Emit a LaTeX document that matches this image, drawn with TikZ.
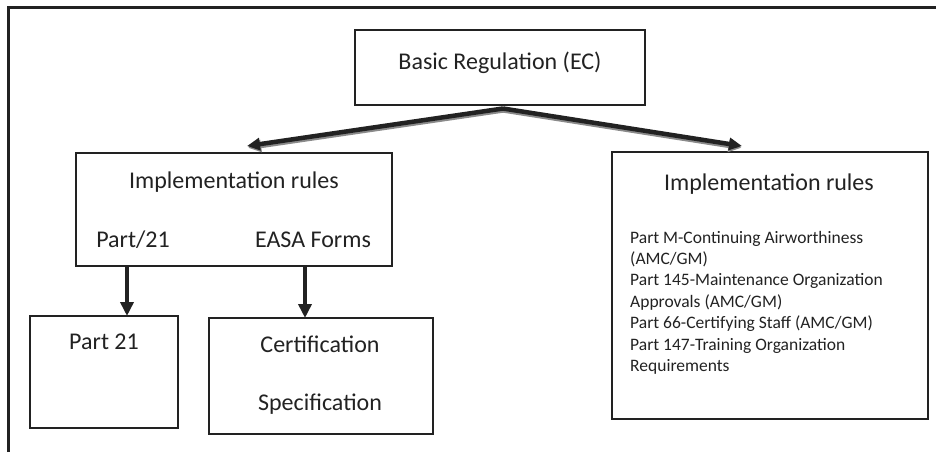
\documentclass[tikz,border=0pt]{standalone}
\usepackage{fontspec}
\setmainfont{Carlito}
\usetikzlibrary{arrows.meta}
\definecolor{ink}{HTML}{222222}
\definecolor{shade}{HTML}{8A8A8A}
\begin{document}
\begin{tikzpicture}[x=1pt,y=-1pt,
  box/.style={draw=ink, line width=2.6pt, inner sep=0pt, outer sep=0pt},
  big/.style={font=\fontsize{24}{29}\selectfont, text=ink, inner sep=0pt},
  small/.style={font=\fontsize{17.5}{21}\selectfont, text=ink, inner sep=0pt, anchor=base west},
  toparrow/.style={draw=ink, line width=4.5pt, -{Triangle[length=13pt,width=12pt]}},
  topshadow/.style={draw=shade, line width=4.5pt, -{Triangle[length=13pt,width=12pt]}},
  downarrow/.style={draw=ink, line width=4.5pt, -{Triangle[length=14pt,width=13pt]}}
]
\useasboundingbox (0,0) rectangle (936,452);
% frame
\draw[ink, line width=3pt] (8,452) -- (8,8) -- (936,8);

% boxes
\node[box, minimum width=290pt, minimum height=75pt] (basic) at (500,67.5) {};
\node[box, minimum width=316pt, minimum height=113pt] (implL) at (234,209.5) {};
\node[box, minimum width=316pt, minimum height=267pt] (implR) at (770,285.5) {};
\node[box, minimum width=148pt, minimum height=112pt] (part21) at (104,372) {};
\node[box, minimum width=224pt, minimum height=116pt] (cert) at (321,376) {};

% texts
\node[big, anchor=base] (basicT) at (500,70) {Basic Regulation (EC)};
\node[big, anchor=base] (implLT) at (234,188) {Implementation rules};
\node[big, anchor=base] (partLT) at (133,247) {Part/21};
\node[big, anchor=base] (easaT) at (313,247) {EASA Forms};
\node[big, anchor=base] (implRT) at (769,190) {Implementation rules};
\node[big, anchor=base] (part21T) at (104,349) {Part 21};
\node[big, anchor=base] (certT) at (320,352) {Certification};
\node[big, anchor=base] (specT) at (320,410) {Specification};

\node[small] (l1) at (630,243) {Part M-Continuing Airworthiness};
\node[small] (l2) at (630,264.4) {(AMC/GM)};
\node[small] (l3) at (630,285.8) {Part 145-Maintenance Organization};
\node[small] (l4) at (630,307.2) {Approvals (AMC/GM)};
\node[small] (l5) at (630,328.6) {Part 66-Certifying Staff (AMC/GM)};
\node[small] (l6) at (630,350) {Part 147-Training Organization};
\node[small] (l7) at (630,371.4) {Requirements};

% top arrows
\coordinate (split) at (503,108.5);
\coordinate (tipL) at (247,146);
\coordinate (tipR) at (742,146);
\draw[topshadow] ([shift={(1.2,1.8)}]split) -- ([shift={(1.2,1.8)}]tipL);
\draw[topshadow] ([shift={(-0.6,1.8)}]split) -- ([shift={(-0.6,1.8)}]tipR);
\draw[toparrow] (split) -- (tipL);
\draw[toparrow] (split) -- (tipR);

% down arrows
\coordinate (xa) at (127,0);
\coordinate (xb) at (305,0);
\draw[downarrow] (implL.south -| xa) -- (part21.north -| xa);
\draw[downarrow] (implL.south -| xb) -- (cert.north -| xb);
\end{tikzpicture}
\end{document}
